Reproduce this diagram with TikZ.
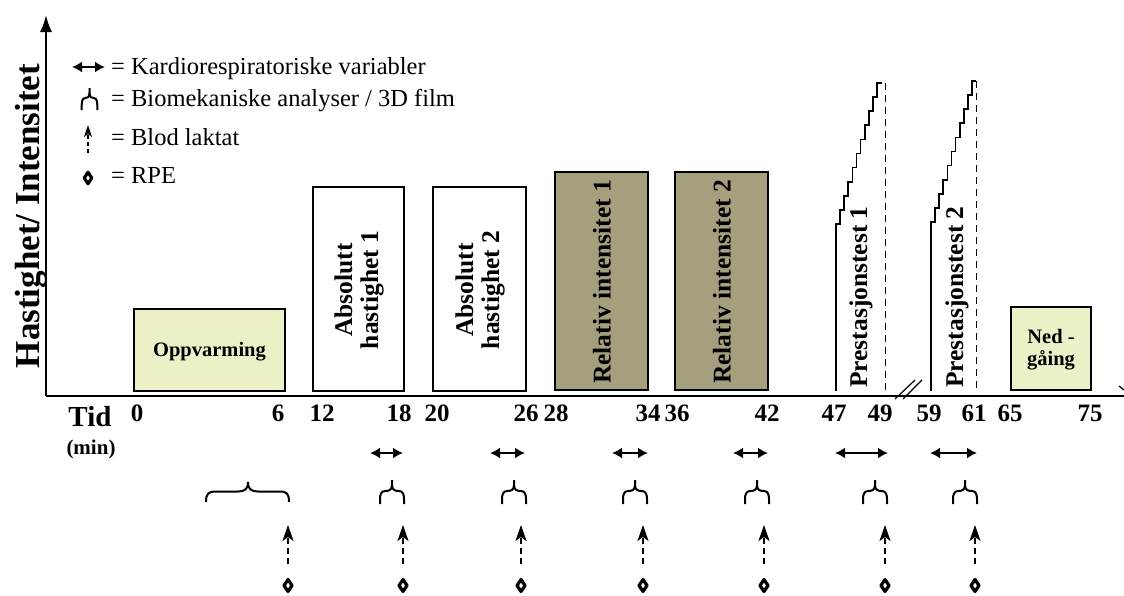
\documentclass[tikz,border=0pt]{standalone}
\usepackage{fontspec}
\setmainfont{Liberation Serif}
\usetikzlibrary{arrows.meta}
\definecolor{warmup}{HTML}{EDF0C6}
\definecolor{olivebox}{HTML}{A59F7E}

\tikzset{
  ln/.style={line width=2pt},
  thinln/.style={line width=1.7pt},
  phase/.style={draw, line width=2pt, inner sep=0pt},
  vtext/.style={rotate=90, align=center, inner sep=0pt,
    font=\bfseries\fontsize{25.5}{26}\selectfont},
  numlab/.style={anchor=base, inner sep=0pt, font=\bfseries\fontsize{25}{25}\selectfont},
  legtext/.style={anchor=base west, inner sep=0pt, font=\fontsize{24.5}{25}\selectfont},
  dbl/.style={line width=2pt, {Latex[length=10pt,width=11pt]}-{Latex[length=10pt,width=11pt]}},
  lactate/.style={line width=2pt, dash pattern=on 6pt off 4pt, -{Stealth[length=16pt,width=11pt,inset=4pt]}},
  rpe/.style={line width=3.2pt, line join=round},
  fork/.pic={
    \draw[line width=2pt] (0,0) -- (0,5)
      .. controls (0,10) and (-3,11) .. (-7,11)
      .. controls (-11,11) and (-12,15) .. (-12,19) -- (-12,24);
    \draw[line width=2pt] (0,5)
      .. controls (0,10) and (3,11) .. (7,11)
      .. controls (11,11) and (12,15) .. (12,19) -- (12,24);
  },
  diamondmark/.pic={
    \draw[rpe] (0,-6) -- (4,0) -- (0,6) -- (-4,0) -- cycle;
  }
}

\begin{document}
\begin{tikzpicture}[x=1pt, y=-1pt]
\useasboundingbox (0,0) rectangle (1124,595);

% axes
\coordinate (origin) at (46,396);
\coordinate (ytop) at (46,15);
\coordinate (xend) at (1124,396);
\draw[ln, -{Latex[length=17pt,width=12pt]}] (origin) -- (ytop);
\draw[ln] (origin) -- (xend);
\draw[line width=1.2pt] (1119,386) -- (1124,390);
% axis break
\draw[line width=1.2pt] (895,399) -- (915,380);
\draw[line width=1.2pt] (903,399) -- (922,380);

\node[rotate=90, inner sep=0pt, font=\bfseries\fontsize{35}{35}\selectfont] (ylab) at (31,216) {Hastighet/ Intensitet};

% legend
\draw[dbl] (72,67) -- (105,67);
\pic[xscale=0.65, yscale=0.92] at (89.5,88) {fork};
\draw[line width=1.6pt, dash pattern=on 4pt off 3pt, -{Stealth[length=12pt,width=8pt,inset=3pt]}] (88,153) -- (88,125);
\pic[scale=0.95] at (88,178) {diamondmark};
\node[legtext] (leg1) at (111,74) {= Kardiorespiratoriske variabler};
\node[legtext] (leg2) at (111,106) {= Biomekaniske analyser / 3D film};
\node[legtext] (leg3) at (111,145) {= Blod laktat};
\node[legtext] (leg4) at (111,183) {= RPE};

% phases
\node[phase, fill=warmup, minimum width=151pt, minimum height=82pt] (warm) at (209.5,350) {};
\node[inner sep=0pt, font=\bfseries\fontsize{20.5}{20}\selectfont] (warmlab) at (209.5,352) {Oppvarming};

\node[phase, fill=white, minimum width=91pt, minimum height=204pt] (abs1) at (358.5,289) {};
\node[vtext] (abs1lab) at (359,290) {Absolutt\\hastighet 1};
\node[phase, fill=white, minimum width=93pt, minimum height=204pt] (abs2) at (479.5,289) {};
\node[vtext] (abs2lab) at (480,290) {Absolutt\\hastighet 2};

\node[phase, fill=olivebox, minimum width=93pt, minimum height=218pt] (rel1) at (601.5,281) {};
\node[vtext] (rel1lab) at (602,282) {Relativ intensitet 1};
\node[phase, fill=olivebox, minimum width=93pt, minimum height=218pt] (rel2) at (721.5,281) {};
\node[vtext] (rel2lab) at (722,282) {Relativ intensitet 2};

% incremental tests
\draw[thinln] (836,391) -- (836,224) foreach \k in {1,...,10} { -- ++(4.1,0) -- ++(0,-14.1) } -- ++(5,0);
\draw[thinln, dash pattern=on 7pt off 5pt] (885.5,83) -- (885.5,391);
\node[vtext] (test1lab) at (861,297) {Prestasjonstest 1};

\draw[thinln] (931,391) -- (931,222) foreach \k in {1,...,10} { -- ++(4.1,0) -- ++(0,-14.1) } -- ++(4,0);
\draw[thinln, dash pattern=on 7pt off 5pt] (976.5,81) -- (976.5,391);
\node[vtext] (test2lab) at (957,297) {Prestasjonstest 2};

\node[phase, fill=warmup, minimum width=80pt, minimum height=83pt] (ned) at (1051,348.5) {};
\node[inner sep=0pt, align=center, font=\bfseries\fontsize{20.5}{22}\selectfont] (nedlab) at (1051,350) {Ned -\\gåing};

% time axis labels
\node[anchor=base, inner sep=0pt, font=\bfseries\fontsize{29}{29}\selectfont] (tid) at (90,426) {Tid};
\node[anchor=base, inner sep=0pt, font=\bfseries\fontsize{21}{21}\selectfont] (min) at (91,454) {(min)};
\foreach \v/\x in {0/137, 6/278, 12/322, 18/399, 20/437, 26/526, 28/556, 34/648, 36/677,
                   42/767, 47/834, 49/880, 59/929, 61/974, 65/1010, 75/1090}
  \node[numlab] (t\v) at (\x,421) {\v};

% cardiorespiratory measurements
\foreach \a/\b in {370/403, 490/525, 612/648, 733/768, 835/888, 930/977}
  \draw[dbl] (\a,453) -- (\b,453);

% biomechanical analyses
\draw[line width=2pt] (206,502) .. controls (206,494) and (208,491.5) .. (216,491.5) -- (238,491.5)
  .. controls (245,491.5) and (248,489) .. (248,482)
  .. controls (248,489) and (251,491.5) .. (258,491.5) -- (280,491.5)
  .. controls (287,491.5) and (289,494) .. (289,502);
\foreach \x in {392, 514, 635, 757, 875, 965}
  \pic at (\x,480) {fork};

% blood lactate and RPE
\foreach \x in {288, 403, 521, 643, 764, 885, 975} {
  \draw[lactate] (\x,564) -- (\x,525);
  \pic at (\x,585.5) {diamondmark};
}
\end{tikzpicture}
\end{document}
